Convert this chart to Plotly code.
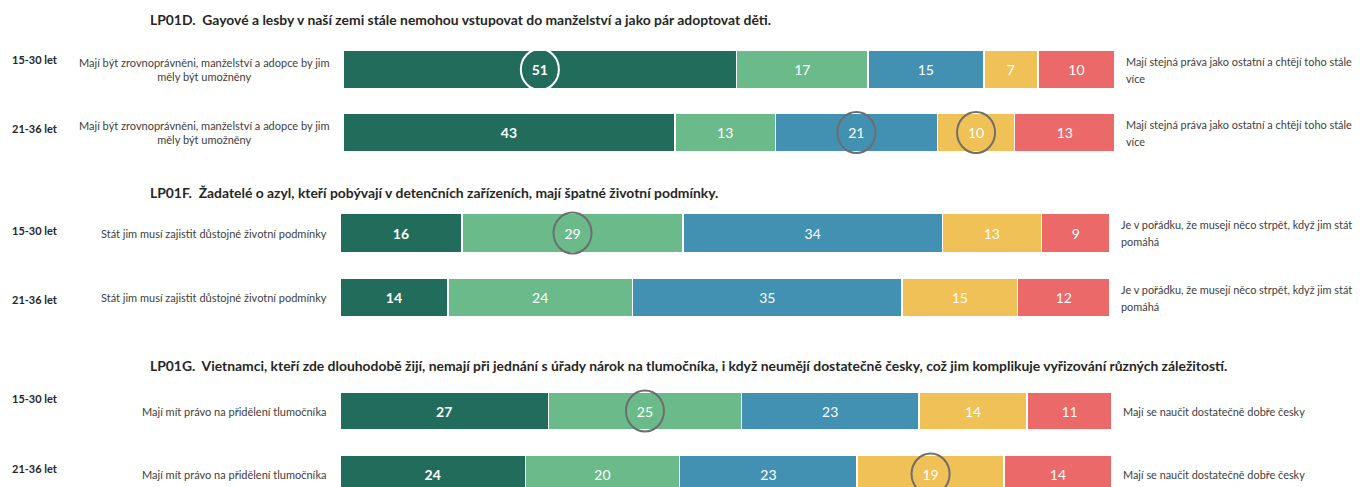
import plotly.graph_objects as go

# otázky, věkové skupiny a popisky
TITLES = [
    "LP01D.  Gayové a lesby v naší zemi stále nemohou vstupovat do manželství a jako pár adoptovat děti.",
    "LP01F.  Žadatelé o azyl, kteří pobývají v detenčních zařízeních, mají špatné životní podmínky.",
    "LP01G.  Vietnamci, kteří zde dlouhodobě žijí, nemají při jednání s úřady nárok na tlumočníka, "
    "i když neumějí dostatečně česky, což jim komplikuje vyřizování různých záležitostí.",
]
AGES = ["15-30 let", "21-36 let"]
LEFT_LABELS = [
    "Mají být zrovnoprávněni, manželství a adopce by jim<br>měly být umožněny",
    "Stát jim musí zajistit důstojné životní podmínky",
    "Mají mít právo na přidělení tlumočníka",
]
RIGHT_LABELS = [
    "Mají stejná práva jako ostatní a chtějí toho stále<br>více",
    "Je v pořádku, že musejí něco strpět, když jim stát<br>pomáhá",
    "Mají se naučit dostatečně dobře česky",
]

# hodnoty (řádek = věková skupina, sloupec = stupeň škály)
LP01D = [[51, 17, 15, 7, 10], [43, 13, 21, 10, 13]]
LP01F = [[16, 29, 34, 13, 9], [14, 24, 35, 15, 12]]
LP01G = [[27, 25, 23, 14, 11], [24, 20, 23, 19, 14]]
VALUES = [LP01D, LP01F, LP01G]

# zakroužkované hodnoty: (otázka, řádek, segment)
CIRCLED = [(0, 0, 0), (0, 1, 2), (0, 1, 3), (1, 0, 1), (2, 0, 1), (2, 1, 3)]

COLORS = ["#226C5C", "#6BBA8A", "#4291B3", "#F0C156", "#EB6968"]
FONT = "Lato, Open Sans, sans-serif"

W, H = 1360, 487
# rozložení panelů v pixelech: (x začátek, x konec, střed 1. řádku, rozteč řádků)
PANELS = [(343, 1115, 69.5, 63), (340, 1110, 233, 64.5), (340, 1112, 411, 63)]
TITLE_Y = [20, 192, 365]
AGE_SHIFTS = [(10, 4), (3, -2), (13, 6)]
BAR_WIDTH = 0.6
LINE_H = 17


def right_label(text, xref, yref, y):
    """popisek vpravo, řádky zvlášť kvůli většímu řádkování"""
    lines = text.split("<br>")
    out = []
    for i, line in enumerate(lines):
        out.append(dict(
            text=line, xref=xref, yref=yref, x=1, y=y,
            xanchor="left", yanchor="middle", xshift=9,
            yshift=((len(lines) - 1) / 2 - i) * LINE_H,
            align="left", showarrow=False,
            font=dict(size=10.9, color="#404040", family=FONT),
        ))
    return out


fig = go.Figure()
layout = {}
annotations = []
shapes = []

for q, rows in enumerate(VALUES):
    sfx = "" if q == 0 else str(q + 1)
    xa, ya = "x" + sfx, "y" + sfx
    x0, x1, c0, step = PANELS[q]
    top = c0 - 0.5 * step
    bottom = min(H, c0 + 1.5 * step)

    layout["xaxis" + sfx] = dict(
        domain=[x0 / W, x1 / W], range=[0, 100], visible=False,
        anchor=ya, fixedrange=True,
    )
    layout["yaxis" + sfx] = dict(
        domain=[1 - bottom / H, 1 - top / H],
        range=[(bottom - c0) / step, -0.5], visible=False,
        anchor=xa, fixedrange=True,
    )

    for k in range(5):
        vals = [r[k] for r in rows]
        fig.add_trace(
            go.Bar(
                x=vals,
                y=list(range(len(rows))),
                orientation="h",
                xaxis=xa,
                yaxis=ya,
                width=BAR_WIDTH,
                marker=dict(color=COLORS[k], line=dict(color="white", width=1.5)),
                text=vals,
                texttemplate="<b>%{text}</b>" if k == 0 else "%{text}",
                textposition="inside",
                insidetextanchor="middle",
                textangle=0,
                insidetextfont=dict(color="white", size=14, family=FONT),
                showlegend=False,
                hoverinfo="skip",
            )
        )

    annotations.append(dict(
        text="<b>" + TITLES[q] + "</b>", xref="paper", yref="paper",
        x=148 / W, y=1 - TITLE_Y[q] / H, xanchor="left", yanchor="middle",
        showarrow=False, font=dict(size=13.9, color="#262626", family=FONT),
    ))

    for r in range(len(rows)):
        annotations.append(dict(
            text="<b>" + AGES[r] + "</b>", xref="paper", yref=ya,
            x=10 / W, y=r, xanchor="left", yanchor="middle",
            yshift=AGE_SHIFTS[q][r], showarrow=False,
            font=dict(size=11, color="#262626", family=FONT),
        ))
        annotations.append(dict(
            text=LEFT_LABELS[q], xref=xa + " domain", yref=ya,
            x=0, y=r, xanchor="right", yanchor="middle", xshift=-11,
            align="center", showarrow=False,
            font=dict(size=11, color="#404040", family=FONT),
        ))
        annotations += right_label(RIGHT_LABELS[q], xa + " domain", ya, r)

for q, r, k in CIRCLED:
    row = VALUES[q][r]
    cx = (sum(row[:k]) + row[k] / 2) / sum(row) * 100
    sfx = "" if q == 0 else str(q + 1)
    shapes.append(dict(
        type="circle", xref="x" + sfx, yref="y" + sfx,
        xsizemode="pixel", ysizemode="pixel",
        xanchor=cx, yanchor=r, x0=-19, x1=19, y0=-20.5, y1=20.5,
        line=dict(color="white" if k == 0 else "#6E6E6E", width=2),
    ))

fig.update_layout(
    width=W,
    height=H,
    barmode="stack",
    barnorm="percent",
    margin=dict(l=0, r=0, t=0, b=0),
    paper_bgcolor="white",
    plot_bgcolor="white",
    font=dict(family=FONT),
    annotations=annotations,
    shapes=shapes,
    **layout,
)

# stránka má výchozí okraj 8 px, graf má začínat v rohu okna
fig.write_html(
    "out.html",
    config={"displayModeBar": False},
    post_script="document.body.style.margin='0';document.body.style.overflow='hidden';",
)
